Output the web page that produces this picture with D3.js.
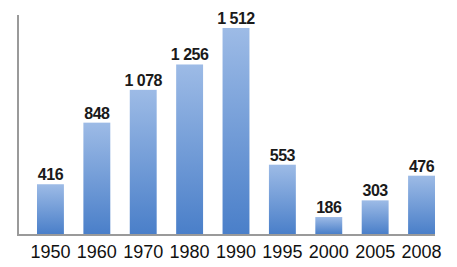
<!DOCTYPE html>
<html>
<head>
<meta charset="utf-8">
<script src="https://cdn.jsdelivr.net/npm/d3@7"></script>
<style>
  body { margin: 0; background: #fff; }
  svg { display: block; }
</style>
</head>
<body>
<svg id="chart" width="457" height="267"></svg>
<script>
// chart values
var years  = ["1950", "1960", "1970", "1980", "1990", "1995", "2000", "2005", "2008"];
var values = [416, 848, 1078, 1256, 1512, 553, 186, 303, 476];
var valueLabels = ["416", "848", "1 078", "1 256", "1 512", "553", "186", "303", "476"];

var svg = d3.select("#chart");
var baseY = 234, topY = 15, axisX = 18;

var x = d3.scaleBand().domain(years).range([37, 435]).paddingInner(0.42).paddingOuter(0);
var y = d3.scaleLinear().domain([67, 1603]).range([baseY, topY]);

var defs = svg.append("defs");
var grad = defs.append("linearGradient")
    .attr("id", "barGrad")
    .attr("x1", 0).attr("y1", 0).attr("x2", 0).attr("y2", 1);
grad.append("stop").attr("offset", "0%").attr("stop-color", "#9dbbe6");
grad.append("stop").attr("offset", "100%").attr("stop-color", "#4a7fc9");

var data = years.map(function(d, i) { return { year: d, value: values[i], label: valueLabels[i] }; });

svg.selectAll(".bar")
  .data(data)
  .enter().append("rect")
    .attr("class", "bar")
    .attr("x", d => x(d.year))
    .attr("y", d => y(d.value))
    .attr("width", x.bandwidth())
    .attr("height", d => baseY - y(d.value))
    .attr("fill", "url(#barGrad)");

// axis lines
svg.append("line")
    .attr("x1", axisX).attr("x2", axisX)
    .attr("y1", topY).attr("y2", baseY + 1)
    .attr("stroke", "#9a9a9a").attr("stroke-width", 2);
svg.append("line")
    .attr("x1", axisX - 1).attr("x2", 435)
    .attr("y1", baseY + 1).attr("y2", baseY + 1)
    .attr("stroke", "#9a9a9a").attr("stroke-width", 2);

// value labels
svg.selectAll(".val")
  .data(data)
  .enter().append("text")
    .attr("class", "val")
    .attr("x", d => x(d.year) + x.bandwidth() / 2)
    .attr("y", d => y(d.value) - 4)
    .attr("text-anchor", "middle")
    .style("font-family", "'Liberation Sans', Arial, sans-serif")
    .style("font-weight", "bold")
    .style("font-size", "16px")
    .style("letter-spacing", "-0.5px")
    .attr("fill", "#1a1a1a")
    .text(d => d.label);

// year labels
svg.selectAll(".yr")
  .data(data)
  .enter().append("text")
    .attr("class", "yr")
    .attr("x", d => x(d.year) + x.bandwidth() / 2)
    .attr("y", 258)
    .attr("text-anchor", "middle")
    .style("font-family", "'Liberation Sans', Arial, sans-serif")
    .style("font-size", "18px")
    .attr("fill", "#111")
    .text(d => d.year);
</script>
</body>
</html>
